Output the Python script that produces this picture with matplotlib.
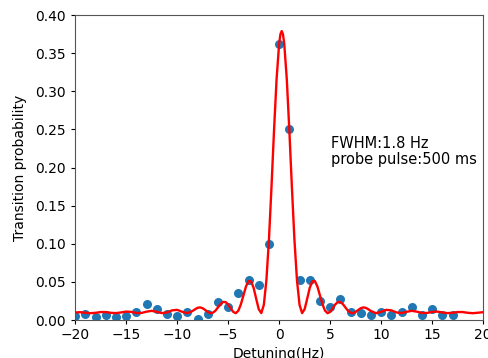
import numpy as np
import matplotlib
matplotlib.use('Agg')
import matplotlib.pyplot as plt

# measured points
detuning = np.arange(-20, 18)
prob = [0.005, 0.008, 0.004, 0.007, 0.004, 0.005, 0.010, 0.021, 0.014, 0.008,
        0.005, 0.010, 0.002, 0.008, 0.024, 0.017, 0.036, 0.053, 0.046, 0.100,
        0.362, 0.251, 0.052, 0.053, 0.025, 0.017, 0.028, 0.010, 0.009, 0.006,
        0.011, 0.006, 0.010, 0.017, 0.006, 0.014, 0.006, 0.006]

# fitted curve
fit_x = [-20.0, -19.5, -19.0, -18.5, -18.0, -17.5, -17.0, -16.5, -16.0, -15.5,
         -15.0, -14.5, -14.0, -13.5, -13.0, -12.5, -12.0, -11.5, -11.0, -10.5,
         -10.0, -9.5, -9.0, -8.5, -8.25, -8.0, -7.75, -7.5, -7.25, -7.0,
         -6.75, -6.5, -6.25, -6.0, -5.75, -5.5, -5.25, -5.0, -4.75, -4.5,
         -4.25, -4.0, -3.75, -3.5, -3.25, -3.0, -2.75, -2.5, -2.25, -2.0,
         -1.75, -1.5, -1.25, -1.0, -0.75, -0.5, -0.25, 0.0, 0.125, 0.25,
         0.375, 0.5, 0.75, 1.0, 1.25, 1.5, 1.75, 2.0, 2.25, 2.5,
         2.75, 3.0, 3.25, 3.5, 3.75, 4.0, 4.25, 4.5, 4.75, 5.0,
         5.25, 5.5, 5.75, 6.0, 6.25, 6.5, 6.75, 7.0, 7.25, 7.5,
         7.75, 8.0, 8.25, 8.5, 8.75, 9.0, 9.5, 10.0, 10.5, 11.0,
         11.5, 12.0, 12.5, 13.0, 13.5, 14.0, 14.5, 15.0, 15.5, 16.0,
         16.5, 17.0, 17.5, 18.0, 18.5, 19.0, 19.5, 20.0]
fit_y = [0.0099, 0.0103, 0.0096, 0.0090, 0.0095, 0.0105, 0.0105, 0.0095, 0.0091, 0.0100,
         0.0111, 0.0107, 0.0093, 0.0093, 0.0110, 0.0121, 0.0108, 0.0091, 0.0100, 0.0127,
         0.0134, 0.0108, 0.0090, 0.0118, 0.0141, 0.0160, 0.0166, 0.0155, 0.0132, 0.0107,
         0.0090, 0.0096, 0.0122, 0.0165, 0.0209, 0.0237, 0.0236, 0.0205, 0.0153, 0.0107,
         0.0090, 0.0123, 0.0207, 0.0324, 0.0441, 0.0512, 0.0508, 0.0422, 0.0279, 0.0143,
         0.0091, 0.0200, 0.0521, 0.1053, 0.1745, 0.2490, 0.3160, 0.3624, 0.3748, 0.3790,
         0.3748, 0.3624, 0.3160, 0.2490, 0.1745, 0.1053, 0.0521, 0.0200, 0.0091, 0.0143,
         0.0279, 0.0422, 0.0508, 0.0512, 0.0441, 0.0324, 0.0207, 0.0123, 0.0090, 0.0107,
         0.0153, 0.0205, 0.0236, 0.0237, 0.0209, 0.0165, 0.0122, 0.0096, 0.0090, 0.0107,
         0.0132, 0.0155, 0.0166, 0.0160, 0.0141, 0.0118, 0.0090, 0.0108, 0.0134, 0.0127,
         0.0100, 0.0091, 0.0108, 0.0121, 0.0110, 0.0093, 0.0093, 0.0107, 0.0111, 0.0100,
         0.0091, 0.0095, 0.0105, 0.0105, 0.0095, 0.0090, 0.0096, 0.0103]

fig = plt.figure(figsize=(4.88, 3.58), dpi=100)
ax = fig.add_axes([0.154, 0.106, 0.836, 0.852])
ax.scatter(detuning, prob, s=30, color='#1f77b4', zorder=2)
ax.plot(fit_x, fit_y, color='red', lw=1.7, zorder=3)
ax.set_xlim(-20, 20)
ax.set_ylim(0, 0.4)
ax.set_xticks(np.arange(-20, 21, 5))
ax.set_yticks(np.arange(0, 0.41, 0.05))
ax.tick_params(axis='x', length=3, pad=3)
ax.tick_params(axis='y', length=3)
for s in ax.spines.values():
    s.set_color('#555555')
ax.set_xlabel('Detuning(Hz)', fontsize=10, labelpad=3)
ax.set_ylabel('Transition probability', fontsize=10, labelpad=6)
ax.text(5.05, 0.205, 'FWHM:1.8 Hz\nprobe pulse:500 ms', fontsize=10.5, linespacing=1.05)

fig.savefig('out.png', dpi=100)
